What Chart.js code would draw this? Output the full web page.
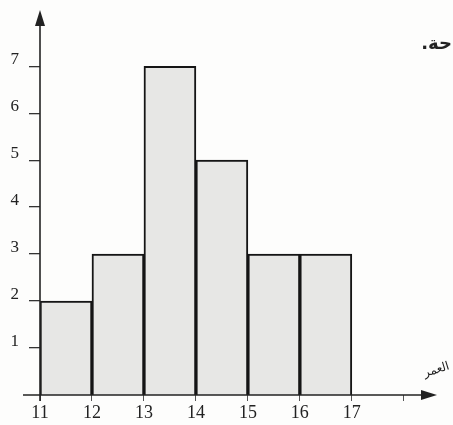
<!DOCTYPE html>
<html>
<head>
<meta charset="utf-8">
<script src="https://cdn.jsdelivr.net/npm/chart.js@4/dist/chart.umd.min.js"></script>
<style>
  html, body { margin: 0; padding: 0; background: #fdfdfc; }
  #wrap { width: 453px; height: 425px; position: relative; }
</style>
</head>
<body>
<div id="wrap"><canvas id="myChart"></canvas></div>
<script>
// class edges (ages) and frequencies
var ageStart = [11, 12, 13, 14, 15, 16];
var counts = [2, 3, 7, 5, 3, 3];
var xTickValues = [11, 12, 13, 14, 15, 16, 17, 18];
var xTickLabels = ['11', '12', '13', '14', '15', '16', '17', ''];
var yTickValues = [1, 2, 3, 4, 5, 6, 7];
var axisLabel = 'العمر';
var cornerText = 'حة.';

var points = ageStart.map(function (a, i) { return { x: a + 0.5, y: counts[i] }; });

var axesPlugin = {
  id: 'axesArrows',
  afterDraw: function (chart) {
    var ctx = chart.ctx;
    var xs = chart.scales.x, ys = chart.scales.y;
    var x0 = xs.getPixelForValue(11), y0 = ys.getPixelForValue(0);
    ctx.save();
    ctx.strokeStyle = '#222';
    ctx.fillStyle = '#222';
    ctx.lineWidth = 1.6;
    // y axis
    ctx.beginPath();
    ctx.moveTo(x0, y0 + 6);
    ctx.lineTo(x0, 22);
    ctx.stroke();
    ctx.beginPath();
    ctx.moveTo(x0, 10);
    ctx.lineTo(x0 - 5, 26);
    ctx.lineTo(x0 + 5, 26);
    ctx.closePath();
    ctx.fill();
    // x axis
    ctx.beginPath();
    ctx.moveTo(23, y0);
    ctx.lineTo(425, y0);
    ctx.stroke();
    ctx.beginPath();
    ctx.moveTo(437, y0);
    ctx.lineTo(421, y0 - 5);
    ctx.lineTo(421, y0 + 5);
    ctx.closePath();
    ctx.fill();
    // texts
    ctx.font = 'bold 18px "DejaVu Sans"';
    ctx.textAlign = 'right';
    ctx.textBaseline = 'middle';
    ctx.direction = 'rtl';
    ctx.fillText(cornerText, 452, 44);
    ctx.font = '12px "DejaVu Sans"';
    ctx.save();
    ctx.translate(430, 372);
    ctx.rotate(-0.3);
    ctx.fillText(axisLabel, 20, 0);
    ctx.restore();
    ctx.restore();
  }
};

var ctx = document.getElementById('myChart').getContext('2d');
new Chart(ctx, {
  type: 'bar',
  data: {
    datasets: [{
      data: points,
      backgroundColor: '#e7e7e5',
      borderColor: '#151515',
      borderWidth: 2,
      borderSkipped: 'bottom',
      barPercentage: 1,
      categoryPercentage: 1
    }]
  },
  options: {
    responsive: true,
    maintainAspectRatio: false,
    animation: false,
    layout: { padding: { top: 12, right: 18, left: 0, bottom: 0 } },
    plugins: { legend: { display: false }, tooltip: { enabled: false } },
    scales: {
      x: {
        type: 'linear',
        min: 11,
        max: 18.6,
        offset: false,
        afterFit: function (s) { s.height = 30; },
        afterBuildTicks: function (s) {
          s.ticks = xTickValues.map(function (v) { return { value: v }; });
        },
        border: { display: false },
        grid: { offset: false, drawOnChartArea: false, drawTicks: true, tickLength: 6, color: '#555' },
        ticks: {
          color: '#222',
          padding: 1,
          maxRotation: 0,
          autoSkip: false,
          font: { family: 'Liberation Serif', size: 18 },
          callback: function (v) { return xTickLabels[xTickValues.indexOf(v)]; }
        }
      },
      y: {
        min: 0,
        max: 7.98,
        afterFit: function (s) { s.width = 40; },
        afterBuildTicks: function (s) {
          s.ticks = yTickValues.map(function (v) { return { value: v }; });
        },
        border: { display: false },
        grid: { drawOnChartArea: false, drawTicks: true, tickLength: 11, color: '#333', lineWidth: 1.3 },
        ticks: {
          color: '#222',
          padding: 10,
          labelOffset: -7,
          font: { family: 'Liberation Serif', size: 17 }
        }
      }
    }
  },
  plugins: [axesPlugin]
});
</script>
</body>
</html>
